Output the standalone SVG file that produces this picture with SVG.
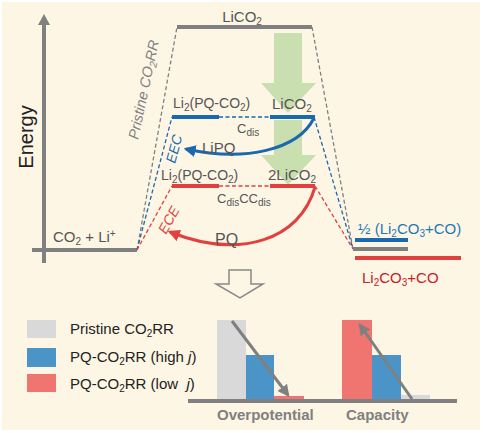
<svg xmlns="http://www.w3.org/2000/svg" width="483" height="433" viewBox="0 0 483 433">
<defs>
<style>
text{font-family:"Liberation Sans",Arial,sans-serif;}
.g{fill:#555555;}
.lvl{stroke-width:4;fill:none;}
.dash{stroke-width:1.3;stroke-dasharray:4 2.5;fill:none;}
.gr{stroke:#808080;}
.bl{stroke:#1a68ad;}
.rd{stroke:#e2403f;}
.sub{font-size:10px;}
</style>
<marker id="ahB" viewBox="0 0 10 10" refX="8" refY="5" markerWidth="4" markerHeight="4" orient="auto"><path d="M0,0 L10,5 L0,10 z" fill="#1a68ad"/></marker>
<marker id="ahR" viewBox="0 0 10 10" refX="8" refY="5" markerWidth="4" markerHeight="4" orient="auto"><path d="M0,0 L10,5 L0,10 z" fill="#e2403f"/></marker>
<marker id="ahG" viewBox="0 0 10 10" refX="8" refY="5" markerWidth="4" markerHeight="4" orient="auto"><path d="M0,0 L10,5 L0,10 z" fill="#808080"/></marker>
</defs>
<rect x="0" y="0" width="483" height="433" fill="#ffffff"/>
<rect x="2" y="2" width="478" height="428" fill="#fdf6e4"/>

<g id="axis">
<line x1="44" y1="24" x2="44" y2="263" stroke="#808080" stroke-width="4"/>
<path d="M38,25 L44,14 L50,25 z" fill="#808080"/>
<line x1="32" y1="250" x2="137" y2="250" stroke="#808080" stroke-width="4"/>
<text transform="translate(33,137) rotate(-90)" text-anchor="middle" font-size="20" fill="#222">Energy</text>
<text x="53" y="242" font-size="15" class="g">CO<tspan class="sub" dy="3">2</tspan><tspan dy="-3"> + Li</tspan><tspan class="sub" dy="-5">+</tspan></text>
</g>

<g id="green-arrow" fill="#a9d18e" opacity="0.6">
<path d="M274,33 L302,33 L302,83 L316,83 L288,113 L261,83 L274,83 z"/>
<path d="M274,120 L302,120 L302,155 L316,155 L288,185 L261,155 L274,155 z"/>
</g>

<g id="connectors">
<path class="dash gr" d="M137,250 L177,27"/>
<path class="dash gr" d="M312,27 L353,249"/>
<path class="dash bl" d="M137,250 L172,117"/>
<path class="dash bl" d="M219,117 L270,117"/>
<path class="dash bl" d="M314,117 L353,249"/>
<path class="dash rd" d="M137,250 L172,186"/>
<path class="dash rd" d="M219,186 L270,186"/>
<path class="dash rd" d="M315,186 L353,249"/>
<path d="M314,118 C298,150 245,162 186,149" fill="none" stroke="#1a68ad" stroke-width="3" marker-end="url(#ahB)"/>
<path d="M315,187 C300,240 240,260 170,232" fill="none" stroke="#e2403f" stroke-width="3" marker-end="url(#ahR)"/>
</g>

<g id="level-top">
<line class="lvl gr" x1="177" y1="27" x2="312" y2="27"/>
<text x="242" y="22" font-size="15" class="g" text-anchor="middle">LiCO<tspan class="sub" dy="3">2</tspan></text>
</g>

<g id="level-blue">
<line class="lvl bl" x1="172" y1="117" x2="219" y2="117"/>
<line class="lvl bl" x1="270" y1="117" x2="315" y2="117"/>
<text x="173" y="108" font-size="14" class="g">Li<tspan class="sub" dy="3">2</tspan><tspan dy="-3">(PQ-CO</tspan><tspan class="sub" dy="3">2</tspan><tspan dy="-3">)</tspan></text>
<text x="272" y="109" font-size="15" class="g">LiCO<tspan class="sub" dy="3">2</tspan></text>
<text x="237" y="133" font-size="13" class="g">C<tspan class="sub" dy="3">dis</tspan></text>
<text x="202" y="153" font-size="15" class="g">LiPQ</text>
</g>

<g id="level-red">
<line class="lvl rd" x1="172" y1="186" x2="219" y2="186"/>
<line class="lvl rd" x1="270" y1="186" x2="315" y2="186"/>
<text x="161" y="180" font-size="14" class="g">Li<tspan class="sub" dy="3">2</tspan><tspan dy="-3">(PQ-CO</tspan><tspan class="sub" dy="3">2</tspan><tspan dy="-3">)</tspan></text>
<text x="268" y="180" font-size="15" class="g">2LiCO<tspan class="sub" dy="3">2</tspan></text>
<text x="217" y="203" font-size="13" class="g">C<tspan class="sub" dy="3">dis</tspan><tspan dy="-3">CC</tspan><tspan class="sub" dy="3">dis</tspan></text>
<text x="215" y="245" font-size="16" class="g">PQ</text>
</g>

<g id="path-labels">
<text transform="translate(138,140) rotate(-78)" font-size="14.5" font-style="italic" fill="#808080">Pristine CO<tspan font-size="10.5" dy="3">2</tspan><tspan dy="-3">RR</tspan></text>
<text transform="translate(175,164) rotate(-75)" font-size="14" font-style="italic" fill="#1a6aad">EEC</text>
<text transform="translate(166,235) rotate(-61)" font-size="14" font-style="italic" fill="#e2403f">ECE</text>
</g>

<g id="level-products">
<line class="lvl bl" x1="355" y1="240" x2="408" y2="240"/>
<line class="lvl gr" x1="353" y1="249" x2="408" y2="249"/>
<line class="lvl rd" x1="355" y1="258" x2="461" y2="258"/>
<text x="358" y="234" font-size="15" fill="#1f78b4">½ (Li<tspan class="sub" dy="3">2</tspan><tspan dy="-3">CO</tspan><tspan class="sub" dy="3">3</tspan><tspan dy="-3">+CO)</tspan></text>
<text x="362" y="283" font-size="15" fill="#c8202a">Li<tspan class="sub" dy="3">2</tspan><tspan dy="-3">CO</tspan><tspan class="sub" dy="3">3</tspan><tspan dy="-3">+CO</tspan></text>
</g>

<g id="hollow-arrow">
<path d="M229,270 L251,270 L251,284 L263,284 L240,298 L216,284 L229,284 z" fill="none" stroke="#888888" stroke-width="1.5"/>
</g>

<g id="legend">
<rect x="27" y="320" width="29" height="18" fill="#d9d9d9"/>
<rect x="27" y="348" width="29" height="19" fill="#4a94c8"/>
<rect x="27" y="374" width="29" height="18" fill="#f07470"/>
<text x="70" y="334" font-size="15" fill="#222">Pristine CO<tspan class="sub" dy="3">2</tspan><tspan dy="-3">RR</tspan></text>
<text x="70" y="362" font-size="15" fill="#222">PQ-CO<tspan class="sub" dy="3">2</tspan><tspan dy="-3">RR (high </tspan><tspan font-style="italic">j</tspan>)</text>
<text x="70" y="389" font-size="15" fill="#222" xml:space="preserve">PQ-CO<tspan class="sub" dy="3">2</tspan><tspan dy="-3">RR (low  </tspan><tspan font-style="italic">j</tspan>)</text>
</g>

<g id="bar-chart">
<rect x="217" y="320" width="29" height="80" fill="#d9d9d9"/>
<rect x="246" y="355" width="28" height="45" fill="#4a94c8"/>
<rect x="274" y="396" width="30" height="4" fill="#f07470"/>
<rect x="342" y="320" width="30" height="80" fill="#f07470"/>
<rect x="372" y="355" width="29" height="45" fill="#4a94c8"/>
<rect x="401" y="395" width="29" height="5" fill="#d9d9d9"/>
<line x1="188" y1="401" x2="457" y2="401" stroke="#808080" stroke-width="4"/>
<line x1="232" y1="321" x2="288" y2="395" stroke="#808080" stroke-width="3" marker-end="url(#ahG)"/>
<line x1="412" y1="399" x2="360" y2="325" stroke="#808080" stroke-width="3" marker-end="url(#ahG)"/>
<text x="217" y="420" font-size="15" font-weight="bold" fill="#808080">Overpotential</text>
<text x="346" y="420" font-size="15" font-weight="bold" fill="#808080">Capacity</text>
</g>
</svg>
